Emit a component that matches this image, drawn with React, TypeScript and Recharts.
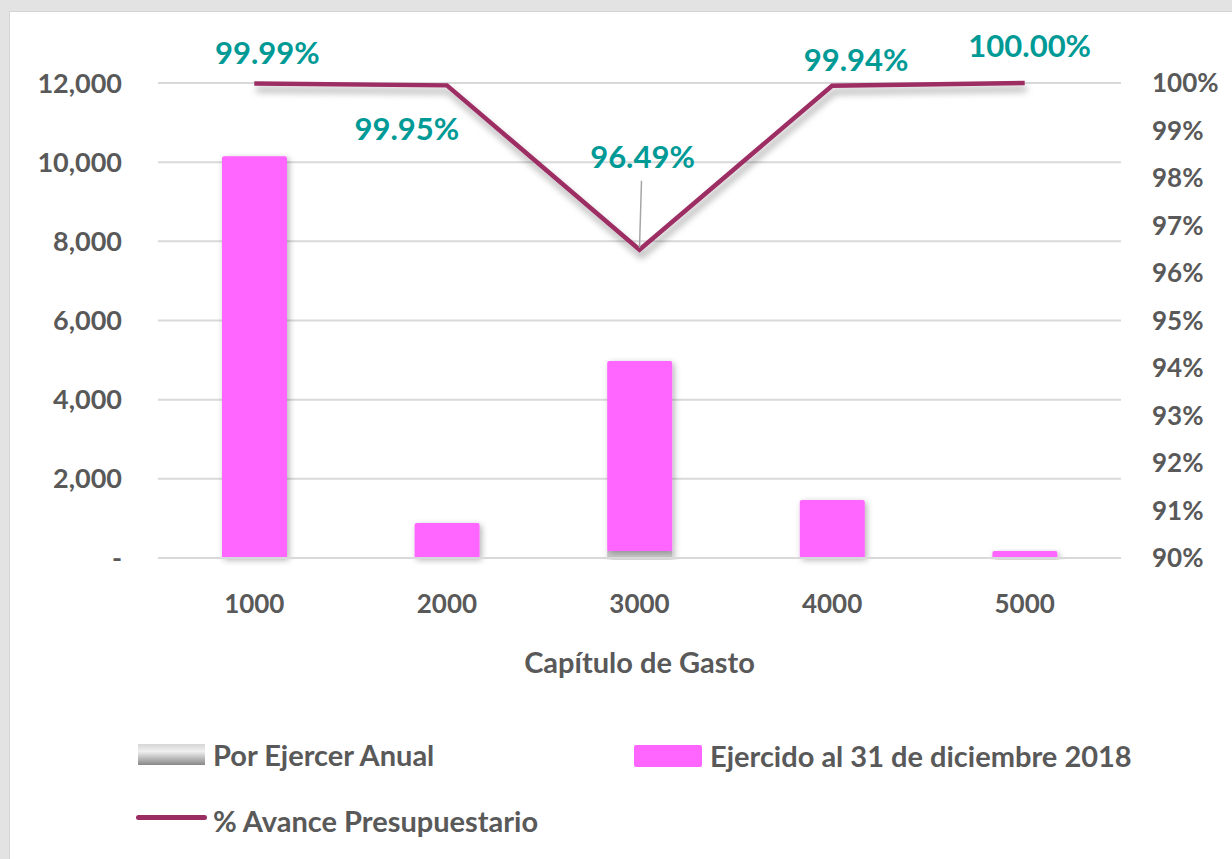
import React from 'react';
import { ComposedChart, Bar, Line, XAxis, YAxis, CartesianGrid, Legend, LabelList, Label } from 'recharts';

const capitulos = ['1000', '2000', '3000', '4000', '5000'];
const porEjercer = [1, 0.4, 175, 1, 0];
const ejercido = [10150, 884, 4802, 1465, 177];
const avance = [0.9999, 0.9995, 0.9649, 0.9994, 1.0];
const avanceLabels = ['99.99%', '99.95%', '96.49%', '99.94%', '100.00%'];
const leftTicks = [0, 2000, 4000, 6000, 8000, 10000, 12000];
const rightTicks = [0.9, 0.91, 0.92, 0.93, 0.94, 0.95, 0.96, 0.97, 0.98, 0.99, 1.0];

const data = capitulos.map((c, i) => ({
  cap: c,
  porEjercer: porEjercer[i],
  ejercido: ejercido[i],
  avance: avance[i],
  label: avanceLabels[i],
}));

const FONT = 'Lato, "Open Sans", sans-serif';
const GRAY = '#595959';
const TEAL = '#009a96';
const LINE = '#9c2d63';
const PINK = '#ff66ff';

const labelOffsets = [
  { dx: 13, dy: -31 },
  { dx: -40, dy: 43 },
  { dx: 3, dy: -94 },
  { dx: 24, dy: -27 },
  { dx: 5, dy: -38 },
];

const PctLabel = (props: any) => {
  const { x, y, index } = props;
  const o = labelOffsets[index] || { dx: 0, dy: -30 };
  return (
    <g>
      {index === 2 && (
        <line x1={x + 2} y1={y - 69} x2={x} y2={y - 2} stroke="#a6a6a6" strokeWidth={1.5} />
      )}
      <text
        x={x + o.dx}
        y={y + o.dy}
        textAnchor="middle"
        dominantBaseline="central"
        fill={TEAL}
        fontFamily={FONT}
        fontWeight={700}
        fontSize={31}
      >
        {avanceLabels[index]}
      </text>
    </g>
  );
};

const textStyle: React.CSSProperties = {
  position: 'absolute',
  fontFamily: FONT,
  fontWeight: 700,
  fontSize: 29,
  color: GRAY,
  whiteSpace: 'nowrap',
  lineHeight: '30px',
};

const renderLegend = () => (
  <div style={{ position: 'relative', width: 1000, height: 110 }}>
    <div style={{ position: 'absolute', left: 5, top: 7, width: 67, height: 21, background: 'linear-gradient(to bottom, #d6d6d6, #f0f0f0 35%, #888888)' }} />
    <div style={{ ...textStyle, left: 80, top: 3 }}>Por Ejercer Anual</div>
    <div style={{ position: 'absolute', left: 501, top: 8, width: 68, height: 22, background: PINK, borderRadius: 2 }} />
    <div style={{ ...textStyle, left: 577, top: 4 }}>Ejercido al 31 de diciembre 2018</div>
    <div style={{ position: 'absolute', left: 3, top: 78, width: 71, height: 5, background: LINE, borderRadius: 3 }} />
    <div style={{ ...textStyle, left: 80, top: 69 }}>% Avance Presupuestario</div>
  </div>
);

export default function App() {
  return (
    <div style={{ position: 'absolute', left: 0, top: 0, width: 1232, height: 859, background: '#e3e3e3', overflow: 'hidden' }}>
      <div style={{ position: 'absolute', left: 9, top: 11, width: 1223, height: 848, background: '#ffffff', borderLeft: '1px solid #d4d4d4', borderTop: '1px solid #d4d4d4' }}>
        <ComposedChart
          width={1222}
          height={847}
          data={data}
          margin={{ top: 71, right: 0, bottom: 181, left: 0 }}
          barCategoryGap="33%"
        >
          <defs>
            <filter id="barShadow" x="-20%" y="-20%" width="140%" height="140%">
              <feDropShadow dx="2" dy="2" stdDeviation="3" floodColor="#000" floodOpacity="0.3" />
            </filter>
            <filter id="lineShadow" x="-10%" y="-30%" width="120%" height="160%">
              <feDropShadow dx="2" dy="6" stdDeviation="3.5" floodColor="#000" floodOpacity="0.35" />
            </filter>
          </defs>
          <CartesianGrid yAxisId="left" vertical={false} stroke="#d9d9d9" strokeWidth={2} />
          <XAxis
            dataKey="cap"
            height={120}
            tickSize={0}
            tickMargin={37}
            axisLine={{ stroke: '#d9d9d9', strokeWidth: 2 }}
            tick={{ fill: GRAY, fontFamily: FONT, fontWeight: 700, fontSize: 26 }}
          >
            <Label
              value="Capítulo de Gasto"
              position="insideBottom"
              offset={5}
              style={{ fill: GRAY, fontFamily: FONT, fontWeight: 700, fontSize: 29 }}
            />
          </XAxis>
          <YAxis
            yAxisId="left"
            orientation="left"
            width={148}
            domain={[0, 12000]}
            ticks={leftTicks}
            tickSize={0}
            tickMargin={36}
            axisLine={false}
            tick={{ fill: GRAY, fontFamily: FONT, fontWeight: 700, fontSize: 27 }}
            tickFormatter={(v: number) => (v === 0 ? '-' : v.toLocaleString('en-US'))}
            interval={0}
          />
          <YAxis
            yAxisId="right"
            orientation="right"
            width={111}
            domain={[0.9, 1.0]}
            ticks={rightTicks}
            tickSize={0}
            tickMargin={31}
            axisLine={false}
            tick={{ fill: GRAY, fontFamily: FONT, fontWeight: 700, fontSize: 26, textAnchor: 'start' }}
            tickFormatter={(v: number) => `${Math.round(v * 100)}%`}
            interval={0}
          />
          <Bar yAxisId="left" dataKey="porEjercer" stackId="s" fill="#c8c8c8" barSize={65} isAnimationActive={false} filter="url(#barShadow)" />
          <Bar yAxisId="left" dataKey="ejercido" stackId="s" fill={PINK} barSize={65} radius={[2, 2, 0, 0]} isAnimationActive={false} filter="url(#barShadow)" />
          <Line
            yAxisId="right"
            dataKey="avance"
            stroke={LINE}
            strokeWidth={4.5}
            dot={false}
            activeDot={false}
            isAnimationActive={false}
            filter="url(#lineShadow)"
          >
            <LabelList dataKey="label" content={PctLabel} />
          </Line>
          <Legend
            layout="horizontal"
            verticalAlign="middle"
            align="center"
            content={renderLegend}
            wrapperStyle={{ left: 123, top: 725, width: 1000, height: 110 }}
          />
        </ComposedChart>
      </div>
    </div>
  );
}
